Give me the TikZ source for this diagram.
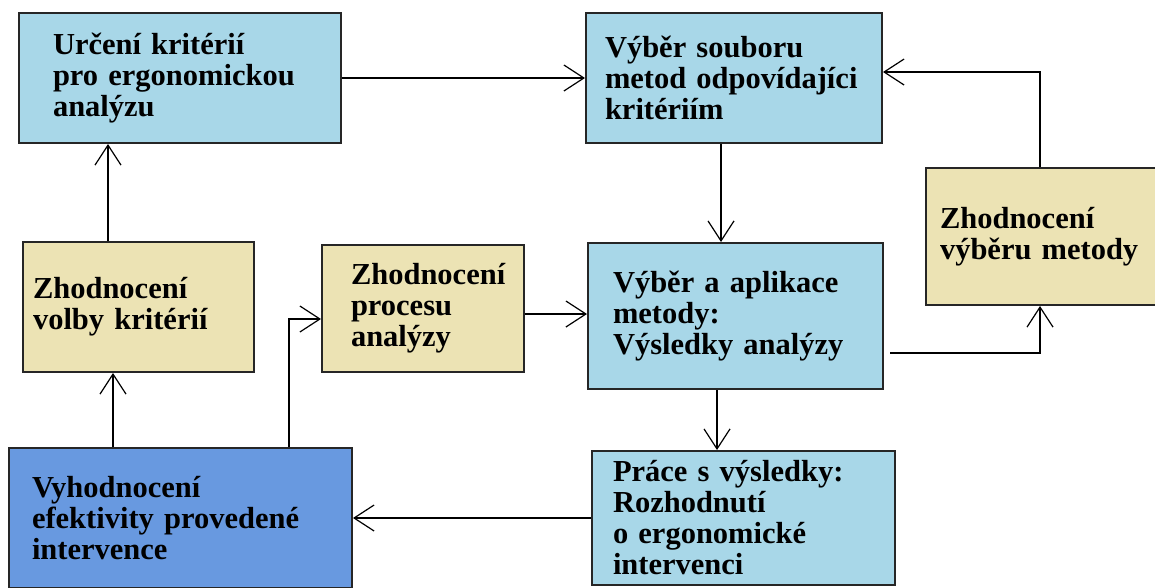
\documentclass[tikz,border=0pt]{standalone}
\usepackage{fontspec}
\setmainfont{Liberation Serif}
\usetikzlibrary{arrows.meta}
\definecolor{boxblue}{RGB}{168,215,232}
\definecolor{boxbeige}{RGB}{236,227,180}
\definecolor{boxdark}{RGB}{104,153,224}
\tikzset{
  box/.style 2 args={draw=black!85, line width=2pt, align=left, inner ysep=0pt,
    text width=#1, inner xsep=#2, font=\fontsize{30.5}{31}\selectfont\bfseries},
  arr/.style={line width=2pt, -{Straight Barb[length=20pt,width=26pt,line width=1.2pt]}},
}
\begin{document}
\begin{tikzpicture}[x=1pt,y=-1pt]
	\clip (0,0) rectangle (1155,587);
	\fill[white] (0,0) rectangle (1155,587);
	% boxes
	\node[box={254pt}{34pt}, fill=boxblue, minimum height=130pt] (kriteria) at (180,78) {Určení kritérií\\pro ergonomickou\\analýzu};
	\node[box={258pt}{19pt}, fill=boxblue, minimum height=130pt] (soubor) at (734,78) {Výběr souboru\\metod odpovídajíci\\kritériím};
	\node[box={245pt}{25pt}, fill=boxblue, minimum height=146pt] (aplikace) at (735.5,316) {Výběr a aplikace\\metody:\\Výsledky analýzy};
	\node[box={216pt}{14pt}, fill=boxbeige, minimum height=137pt] (metoda) at (1048,236.5) {Zhodnocení\\výběru metody};
	\node[box={211pt}{10pt}, fill=boxbeige, minimum height=130pt] (volby) at (138.5,307) {Zhodnocení\\volby kritérií};
	\node[box={144pt}{29pt}, fill=boxbeige, minimum height=127pt] (proces) at (423,308.5) {Zhodnocení\\procesu\\analýzy};
	\node[box={297pt}{23pt}, fill=boxdark, minimum height=140pt] (vyhodnoceni) at (180.5,518) {Vyhodnocení\\efektivity provedené\\intervence};
	\node[box={261pt}{21pt}, fill=boxblue, minimum height=134pt] (prace) at (743.5,518) {Práce s výsledky:\\Rozhodnutí\\o ergonomické\\intervenci};
	% connectors
	\draw[arr] ([xshift=-30.5pt]volby.north) -- ([xshift=-30.5pt]volby.north |- kriteria.south);
	\draw[arr] (kriteria.east) -- (kriteria.east -| soubor.west);
	\draw[arr] ([xshift=-13pt]soubor.south) -- ([xshift=-13pt]soubor.south |- aplikace.north);
	\draw[arr] ([yshift=-5.5pt]proces.east) -- ([yshift=-5.5pt]proces.east -| aplikace.west);
	\draw[arr] ([xshift=6pt,yshift=-37pt]aplikace.east) -| ([xshift=-8pt]metoda.south);
	\draw[arr] ([xshift=-8pt]metoda.north) |- ([yshift=6pt]soubor.east);
	\draw[arr] ([xshift=-25.5pt]volby.south |- vyhodnoceni.north) -- ([xshift=-25.5pt]volby.south);
	\draw[arr] ([xshift=108.5pt]vyhodnoceni.north) |- ([yshift=-10.5pt]proces.west);
	\draw[arr] ([xshift=-18.5pt]aplikace.south) -- ([xshift=-18.5pt]aplikace.south |- prace.north);
	\draw[arr] (prace.west) -- (prace.west -| vyhodnoceni.east);
\end{tikzpicture}
\end{document}
